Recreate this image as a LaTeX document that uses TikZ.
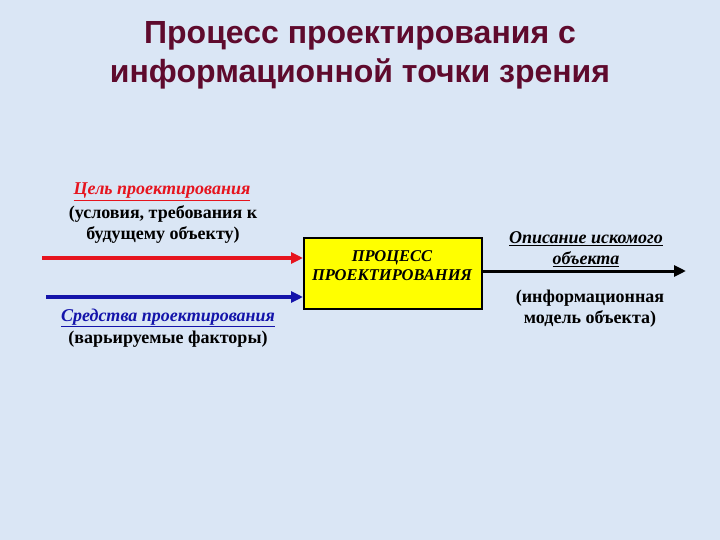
\documentclass[tikz,border=0pt]{standalone}
\usepackage{fontspec}
\setmainfont{Liberation Serif}
\newfontfamily\titlefont{Liberation Sans}
\usetikzlibrary{arrows.meta}
\definecolor{bgblue}{RGB}{218,230,245}
\definecolor{titlecol}{RGB}{95,10,45}
\definecolor{redline}{RGB}{230,20,30}
\definecolor{blueline}{RGB}{20,20,170}
\definecolor{boxyellow}{RGB}{255,255,0}
\tikzset{
  lbl/.style={font=\fontsize{18}{21}\selectfont\bfseries, align=center, inner sep=0pt},
  ttl/.style={font=\titlefont\fontsize{32}{39}\selectfont\bfseries, text=titlecol, align=center, inner sep=0pt},
  arr/.style={line width=3.5pt, -{Triangle[length=12pt,width=11pt]}},
  procbox/.style={draw=black, line width=2pt, fill=boxyellow}
}
\begin{document}
\begin{tikzpicture}[x=1pt,y=-1pt]
\fill[bgblue] (0,0) rectangle (720,540);
\useasboundingbox (0,0) rectangle (720,540);
\node[ttl] (title) at (360,55) {Процесс проектирования с\\информационной точки зрения};
\node[procbox, minimum width=178pt, minimum height=71pt, anchor=north west] (box) at (303,237) {};
\node[lbl, font=\fontsize{16.5}{19}\selectfont\bfseries\itshape] (boxtext) at (392,266) {ПРОЦЕСС\\ПРОЕКТИРОВАНИЯ};
\node[lbl, text=redline] (goal) at (162,192) {\itshape\underline{Цель проектирования}};
\node[lbl] (goaldesc) at (163,225) {(условия, требования к\\будущему объекту)};
\node[lbl, text=blueline] (means) at (168,318) {\itshape\underline{Средства проектирования}};
\node[lbl] (meansdesc) at (168,339) {(варьируемые факторы)};
\node[lbl] (out) at (586,249) {\itshape\underline{Описание искомого}\\\itshape\underline{объекта}};
\node[lbl] (outdesc) at (590,309) {(информационная\\модель объекта)};
\coordinate (r0) at (42,258);
\coordinate (b0) at (46,297);
\coordinate (o1) at (686,271);
\draw[arr, redline] (r0) -- (r0 -| box.west);
\draw[arr, blueline] (b0) -- (b0 -| box.west);
\draw[arr, black, line width=3pt] (o1 -| box.east) -- (o1);
\end{tikzpicture}
\end{document}
